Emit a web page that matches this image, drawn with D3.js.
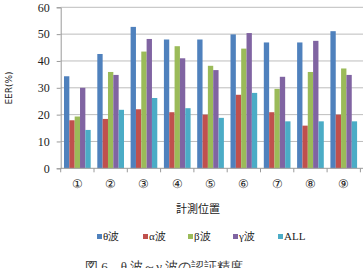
<!DOCTYPE html>
<html>
<head>
<meta charset="utf-8">
<script src="https://cdn.jsdelivr.net/npm/d3@7"></script>
<style>
  body { margin: 0; background: #fff; }
  svg { display: block; }
</style>
</head>
<body>
<svg id="chart" width="363" height="268"></svg>
<script>
// positions along x axis
const positions = ['①', '②', '③', '④', '⑤', '⑥', '⑦', '⑧', '⑨'];
const seriesNames = ['θ波', 'α波', 'β波', 'γ波', 'ALL'];
const seriesColors = ['#4f81bd', '#c0504d', '#9bbb59', '#8064a2', '#4bacc6'];

// EER(%) per wave
const theta = [34.3, 42.6, 52.7, 48.0, 48.0, 49.9, 46.9, 46.9, 51.1];
const alpha = [17.9, 18.4, 22.0, 20.9, 20.0, 27.4, 20.9, 15.9, 20.0];
const beta  = [19.3, 35.9, 43.5, 45.5, 38.2, 44.6, 29.6, 35.9, 37.2];
const gamma = [30.0, 34.8, 48.2, 41.0, 36.6, 50.4, 34.1, 47.5, 34.8];
const all   = [14.3, 21.8, 26.2, 22.4, 18.8, 28.1, 17.5, 17.5, 17.5];
const yTicks = [0, 10, 20, 30, 40, 50, 60];

const series = [theta, alpha, beta, gamma, all];

const svg = d3.select('#chart');
const plotLeft = 60.7, plotRight = 360.4, plotTop = 7.3, plotBottom = 168.3;
const serif = '"Liberation Serif", "DejaVu Serif", serif';
const cjk = '"Noto Sans CJK JP", sans-serif';

const x0 = d3.scaleBand().domain(positions).range([plotLeft, plotRight]).padding(0);
const x1 = d3.scaleBand().domain(d3.range(seriesNames.length))
  .range([0, x0.bandwidth()]).paddingInner(0).paddingOuter(0.62);
const y = d3.scaleLinear().domain([0, 60]).range([plotBottom, plotTop]);

// gridlines
svg.append('g').selectAll('line').data(yTicks.slice(1)).join('line')
  .attr('x1', plotLeft).attr('x2', 363)
  .attr('y1', d => y(d)).attr('y2', d => y(d))
  .attr('stroke', '#bdbdbd').attr('stroke-width', 1);

// bars
positions.forEach((p, i) => {
  svg.append('g').selectAll('rect').data(series).join('rect')
    .attr('x', (s, k) => x0(p) + x1(k))
    .attr('width', x1.bandwidth())
    .attr('y', s => y(s[i]))
    .attr('height', s => y(0) - y(s[i]))
    .attr('fill', (s, k) => seriesColors[k]);
});

// y axis
const yAxis = svg.append('g')
  .attr('transform', `translate(${plotLeft},0)`)
  .call(d3.axisLeft(y).tickValues(yTicks).tickSize(4).tickPadding(7));
yAxis.select('.domain').attr('stroke', '#9a9a9a');
yAxis.selectAll('.tick line').attr('stroke', '#9a9a9a');
yAxis.selectAll('text').attr('font-family', serif).attr('font-size', 12).attr('fill', '#222');

// x axis: ticks between categories
const xAxis = svg.append('g').attr('transform', `translate(0,${plotBottom})`);
xAxis.append('line').attr('x1', plotLeft).attr('x2', 363).attr('stroke', '#9a9a9a');
xAxis.selectAll('line.tk').data(d3.range(positions.length + 1)).join('line')
  .attr('class', 'tk')
  .attr('x1', d => plotLeft + d * x0.step()).attr('x2', d => plotLeft + d * x0.step())
  .attr('y1', 0).attr('y2', 4).attr('stroke', '#9a9a9a');
xAxis.selectAll('text').data(positions).join('text')
  .attr('x', d => x0(d) + x0.bandwidth() / 2)
  .attr('y', 20)
  .attr('text-anchor', 'middle')
  .attr('font-family', serif).attr('font-size', 12).attr('fill', '#222')
  .text(d => d);

// axis titles
svg.append('text')
  .attr('transform', 'translate(12,88) rotate(-90)')
  .attr('text-anchor', 'middle')
  .attr('font-family', '"DejaVu Sans", sans-serif').attr('font-size', 9).attr('fill', '#222')
  .text('EER(%)');

svg.append('text')
  .attr('x', 198).attr('y', 213)
  .attr('text-anchor', 'middle')
  .attr('font-family', cjk).attr('font-size', 11).attr('fill', '#222')
  .text('計測位置');

// legend
const legendX = [97, 143, 188, 233, 278];
const legend = svg.append('g').selectAll('g').data(seriesNames).join('g')
  .attr('transform', (d, k) => `translate(${legendX[k]},240)`);
legend.append('rect')
  .attr('x', 0).attr('y', -6).attr('width', 5).attr('height', 5)
  .attr('fill', (d, k) => seriesColors[k]);
legend.append('text')
  .attr('x', 6).attr('y', 0)
  .attr('font-family', serif).attr('font-size', 11).attr('fill', '#222')
  .text(d => d);

// caption (cut off at bottom edge)
svg.append('text')
  .attr('x', 85).attr('y', 271)
  .attr('font-family', serif).attr('font-size', 13).attr('fill', '#333')
  .text('図 6　θ 波～γ 波の認証精度');
</script>
</body>
</html>
